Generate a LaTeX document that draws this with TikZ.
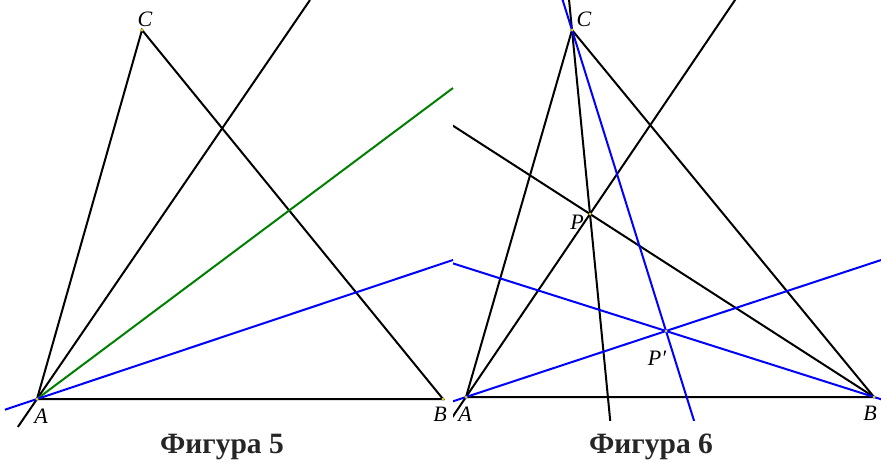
\documentclass[tikz,border=0pt]{standalone}
\usepackage{fontspec}
\setmainfont{Liberation Serif}
\usetikzlibrary{calc}

\begin{document}
\begin{tikzpicture}[x=1pt,y=-1pt,
		ln/.style={line width=2pt},
		bl/.style={line width=2pt,blue},
		gr/.style={line width=2pt,green!50!black},
		pt/.style={fill=yellow,draw=black!60,line width=0.3pt},
		lbl/.style={font=\fontsize{22}{24}\selectfont\itshape,inner sep=0pt},
		figcap/.style={font=\fontsize{29.5}{32}\selectfont\bfseries,text=black!85,inner sep=0pt,anchor=base}]
	\useasboundingbox (0,0) rectangle (881,464);
	% Figure 5
	\coordinate (A5) at (37,399);
	\coordinate (B5) at (443,399);
	\coordinate (C5) at (142,30);
	\coordinate (T5) at (310,0);
	\coordinate (G5) at (453,88);
	\coordinate (E5) at (453,260);
	\draw[ln] (A5) -- (B5) -- (C5) -- cycle;
	\draw[ln] ($(A5)!-0.07!(T5)$) -- (T5);
	\draw[gr] (A5) -- (G5);
	\draw[bl] ($(A5)!-0.077!(E5)$) -- (E5);
	\foreach \p in {A5,B5,C5} \fill[pt] (\p) circle (1.5);
	\node[lbl] (lA5) at (41,416) {A};
	\node[lbl] (lB5) at (440,414) {B};
	\node[lbl] (lC5) at (145,19) {C};
	\node[figcap] (f5) at (222,453) {Фигура 5};
	% Figure 6
	\coordinate (A6) at (466,397);
	\coordinate (B6) at (874,397);
	\coordinate (C6) at (572,30);
	\coordinate (P) at (590,214);
	\coordinate (Q) at (666,331);
	\begin{scope}
		\clip (453,0) rectangle (881,420);
		\draw[ln] (A6) -- (B6) -- (C6) -- cycle;
		\draw[ln] ($(A6)!-0.15!(P)$) -- ($(A6)!2.3!(P)$);
		\draw[ln] (B6) -- ($(B6)!1.6!(P)$);
		\draw[ln] ($(C6)!-0.2!(P)$) -- ($(C6)!2.3!(P)$);
		\draw[bl] ($(A6)!-0.1!(Q)$) -- ($(A6)!2.2!(Q)$);
		\draw[bl] ($(B6)!-0.05!(Q)$) -- ($(B6)!2.1!(Q)$);
		\draw[bl] ($(C6)!-0.12!(Q)$) -- ($(C6)!1.4!(Q)$);
	\end{scope}
	\foreach \p in {A6,B6,C6,P,Q} \fill[pt] (\p) circle (1.5);
	\node[lbl] (lA6) at (465,414) {A};
	\node[lbl] (lB6) at (870,413) {B};
	\node[lbl] (lC6) at (584,19) {C};
	\node[lbl] (lP) at (577,222) {P};
	\node[lbl] (lQ) at (657,358) {P′};
	\node[figcap] (f6) at (651,453) {Фигура 6};
\end{tikzpicture}
\end{document}
